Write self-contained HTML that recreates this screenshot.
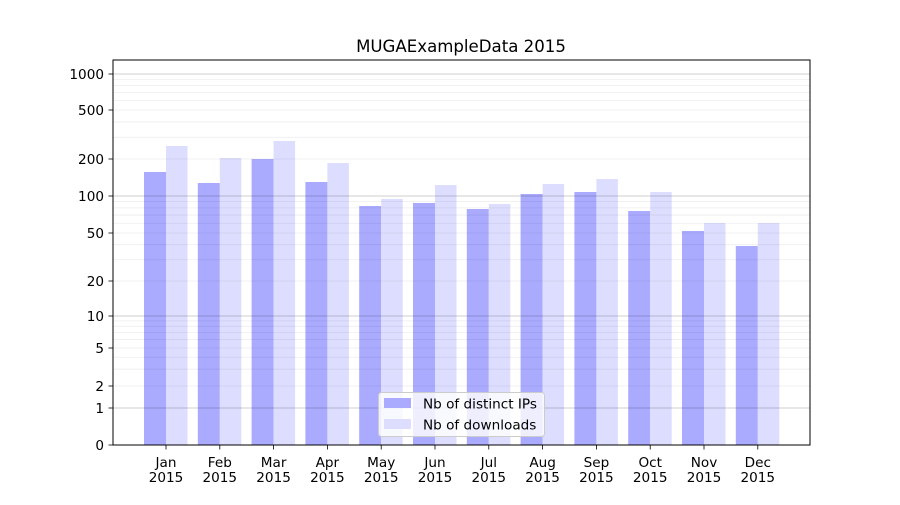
<!DOCTYPE html>
<html><head><meta charset="utf-8"><style>
body{margin:0;background:#fff;}
svg text{font-family:"DejaVu Sans","Liberation Sans",sans-serif;fill:#000;}
</style></head><body>
<svg id="s" width="900" height="500" xmlns="http://www.w3.org/2000/svg"></svg>
<script>
const s=document.getElementById('s');let h='';
const pts=[[0,445],[1,408],[2,386],[5,348],[10,316],[20,281],[50,233],[100,196],[200,159],[500,110],[1000,74],[2000,37]];
function Y(v){if(v<=1)return 445-37*v;for(let i=1;i<pts.length-1;i++){const[a,ya]=pts[i],[b,yb]=pts[i+1];if(v<=b){const t=(Math.log(v)-Math.log(a))/(Math.log(b)-Math.log(a));return ya+(yb-ya)*t;}}return 74;}
const names=['Jan','Feb','Mar','Apr','May','Jun','Jul','Aug','Sep','Oct','Nov','Dec'];
const d=[172,183,159,182,206,203,209,194,192,211,231,246];
const l=[146,158,141,163,199,185,204,184,179,192,223,223];
for(let i=0;i<12;i++){const c=166+i*53.8;
h+=`<rect x="${c-22}" y="${d[i]}" width="22" height="${445-d[i]}" fill="#aaaaff"/>`;
h+=`<rect x="${c}" y="${l[i]}" width="21.5" height="${445-l[i]}" fill="#ddddff"/>`;
h+=`<line x1="${c}" y1="445" x2="${c}" y2="449.5" stroke="#000" stroke-width="0.8"/>`;
h+=`<text x="${c}" y="467" font-size="13.6" text-anchor="middle">${names[i]}</text><text x="${c}" y="482" font-size="13.6" text-anchor="middle">2015</text>`;}
for(const dec of [1,10,100]){for(let k=2;k<=9;k++){const y=Y(dec*k);h+=`<line x1="113" x2="810" y1="${y}" y2="${y}" stroke="#000" stroke-opacity="0.07" stroke-width="0.8"/>`;}}
for(let k=2;k<=9;k++){const y=74-(Math.log10(k))*122;if(y>60)h+=`<line x1="113" x2="810" y1="${y}" y2="${y}" stroke="#000" stroke-opacity="0.07" stroke-width="0.8"/>`;}
for(const v of [1,10,100,1000]){const y=Y(v);h+=`<line x1="113" x2="810" y1="${y}" y2="${y}" stroke="#000" stroke-opacity="0.25" stroke-width="0.8"/>`;}
for(const v of [0,1,2,5,10,20,50,100,200,500,1000]){const y=Y(v);h+=`<line x1="108.5" x2="113" y1="${y}" y2="${y}" stroke="#000" stroke-width="0.8"/><text x="104" y="${y+4.8}" font-size="13.6" text-anchor="end">${v}</text>`;}
h+=`<rect x="113" y="60" width="697" height="385" fill="none" stroke="#000" stroke-width="1"/>`;
h+=`<text x="461" y="52" font-size="16.6" text-anchor="middle">MUGAExampleData 2015</text>`;
h+=`<rect x="378.5" y="392.5" width="166" height="44" rx="3" fill="#fff" fill-opacity="0.8" stroke="#ccc"/>`;
h+=`<rect x="384" y="398" width="27" height="10" fill="#aaaaff"/><text x="423" y="408.5" font-size="13.6">Nb of distinct IPs</text>`;
h+=`<rect x="384" y="419" width="27" height="10" fill="#ddddff"/><text x="423" y="429.5" font-size="13.6">Nb of downloads</text>`;
s.innerHTML=h;
</script>
</body></html>
